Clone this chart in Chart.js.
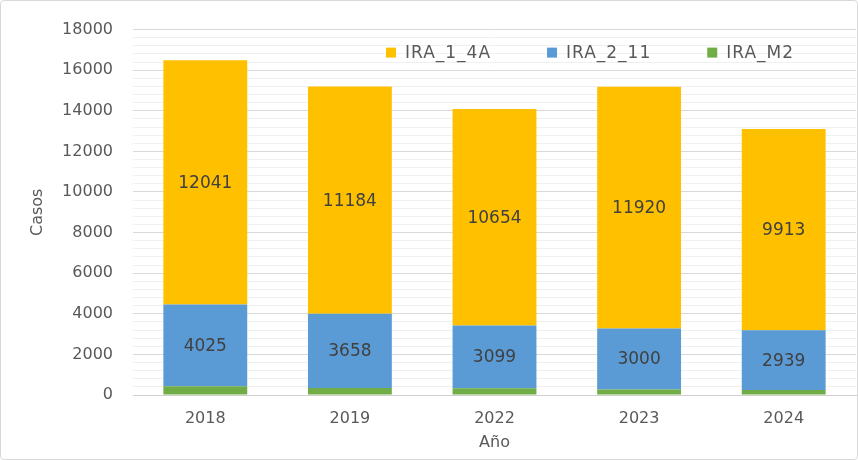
<!DOCTYPE html>
<html>
<head>
<meta charset="utf-8">
<script src="https://cdn.jsdelivr.net/npm/chart.js@4"></script>
<style>
  html, body { margin: 0; padding: 0; background: #fff; }
  #marco { width: 858px; height: 460px; position: relative; }
  #marco::after {
    content: ''; position: absolute; inset: 0;
    border: 1px solid #d9d9d9; border-radius: 4px; pointer-events: none;
  }
</style>
</head>
<body>
<div id="marco"><canvas id="grafica"></canvas></div>
<script>
// Datos
const anios = ['2018', '2019', '2022', '2023', '2024'];
const ira_1_4a = [12041, 11184, 10654, 11920, 9913];
const ira_2_11 = [4025, 3658, 3099, 3000, 2939];
const ira_m2 = [430, 350, 330, 270, 250]; // estimado, sin etiqueta

const fuente = '"DejaVu Sans", sans-serif';
const gris = '#595959';

// Etiquetas de valor en el centro de cada segmento
const etiquetas = {
    id: 'etiquetas',
    afterDatasetsDraw(chart) {
        const ctx = chart.ctx;
        ctx.save();
        ctx.font = '17px ' + fuente;
        ctx.fillStyle = '#404040';
        ctx.textAlign = 'center';
        ctx.textBaseline = 'middle';
        chart.data.datasets.forEach((ds, i) => {
            if (!ds.mostrarValor) return;
            chart.getDatasetMeta(i).data.forEach((bar, j) => {
                ctx.fillText(ds.data[j], bar.x, (bar.y + bar.base) / 2 + 1);
            });
        });
        ctx.restore();
    }
};

// Leyenda dentro del area de trazado, como en Excel
const leyenda = {
    id: 'leyenda',
    afterDraw(chart) {
        const ctx = chart.ctx;
        const area = chart.chartArea;
        const items = chart.data.datasets.slice().reverse();
        ctx.save();
        ctx.font = '17px ' + fuente;
        ctx.letterSpacing = '1px';
        ctx.textBaseline = 'middle';
        const caja = 10, hueco = 9, separacion = 56;
        let x = area.left + 253;
        const y = area.top + 23;
        items.forEach(d => {
            ctx.fillStyle = d.backgroundColor;
            ctx.fillRect(x, y - caja / 2, caja, caja);
            ctx.fillStyle = gris;
            ctx.fillText(d.label, x + caja + hueco, y + 1);
            x += caja + hueco + ctx.measureText(d.label).width + separacion;
        });
        ctx.restore();
    }
};

new Chart(document.getElementById('grafica'), {
    type: 'bar',
    data: {
        labels: anios,
        datasets: [
            { label: 'IRA_M2', data: ira_m2, backgroundColor: '#70AD47', mostrarValor: false },
            { label: 'IRA_2_11', data: ira_2_11, backgroundColor: '#5B9BD5', mostrarValor: true },
            { label: 'IRA_1_4A', data: ira_1_4a, backgroundColor: '#FFC000', mostrarValor: true }
        ]
    },
    options: {
        responsive: true,
        maintainAspectRatio: false,
        animation: false,
        barPercentage: 0.58,
        categoryPercentage: 1,
        layout: { padding: { left: 20, right: 2, top: 27, bottom: 4 } },
        scales: {
            x: {
                stacked: true,
                grid: { display: false },
                border: { color: '#d0d0d0' },
                ticks: { color: gris, font: { family: fuente, size: 16 }, padding: 6 },
                title: { display: true, text: 'Año', color: gris, font: { family: fuente, size: 16 }, padding: { top: 12 } },
                afterFit: s => { s.height = 61; }
            },
            y: {
                stacked: true,
                min: 0,
                max: 18000,
                border: { display: false },
                grid: {
                    drawTicks: false,
                    color: c => (c.tick && c.tick.value % 2000 === 0) ? '#d9d9d9' : '#f0f0f0'
                },
                ticks: {
                    stepSize: 400,
                    autoSkip: false,
                    color: gris,
                    font: { family: fuente, size: 16 },
                    padding: 20,
                    callback: v => (v % 2000 === 0 ? v : '')
                },
                title: { display: true, text: 'Casos', color: gris, font: { family: fuente, size: 16 }, padding: { top: 8, bottom: 0 } },
                afterFit: s => { s.width = 113; }
            }
        },
        plugins: {
            legend: { display: false },
            tooltip: { enabled: false }
        }
    },
    plugins: [etiquetas, leyenda]
});
</script>
</body>
</html>
